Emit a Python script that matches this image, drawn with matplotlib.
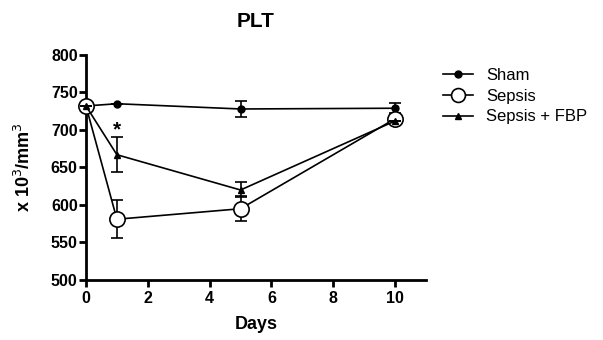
import matplotlib
matplotlib.use("Agg")
import matplotlib.pyplot as plt
from matplotlib.lines import Line2D

plt.rcParams['font.family'] = ['Liberation Sans', 'DejaVu Sans']

days = [0, 1, 5, 10]
sham = [732, 735, 728, 729]
sham_err = [0, 0, 11, 7]
sepsis = [732, 581, 595, 715]
sepsis_err = [0, 25, 17, 0]
fbp = [732, 667, 620, 712]
fbp_err = [0, 23, 10, 0]
labels = ["Sham", "Sepsis", "Sepsis + FBP"]

fig = plt.figure(figsize=(6.03, 3.40), dpi=100)
ax = fig.add_axes([0.1426, 0.1765, 0.5638, 0.6618])

lw = 1.2
ax.errorbar(days, sham, yerr=sham_err, color='black', lw=lw, marker='o', ms=5,
            capsize=4, elinewidth=1.2, capthick=1.2, clip_on=False, zorder=3)
ax.errorbar(days, sepsis, yerr=sepsis_err, color='black', lw=lw, marker='o', ms=11,
            mfc='white', mew=1.2, capsize=4, elinewidth=1.2, capthick=1.2,
            clip_on=False, zorder=4)
ax.errorbar(days, fbp, yerr=fbp_err, color='black', lw=lw, marker='^', ms=5,
            capsize=4, elinewidth=1.2, capthick=1.2, clip_on=False, zorder=5)

ax.text(1, 700, "*", ha='center', va='center', fontsize=15, fontweight='bold')

ax.set_xlim(0, 11)
ax.set_ylim(500, 800)
ax.set_xticks([0, 2, 4, 6, 8, 10])
ax.set_yticks(range(500, 801, 50))
for s in ['top', 'right']:
    ax.spines[s].set_visible(False)
for s in ['left', 'bottom']:
    ax.spines[s].set_linewidth(2)
ax.tick_params(width=2, length=5, direction='out', labelsize=11.5)
ax.tick_params(axis='x', pad=3)
ax.tick_params(axis='y', pad=1)
for t in ax.get_xticklabels() + ax.get_yticklabels():
    t.set_fontweight('bold')

ax.set_xlabel("Days", fontsize=13, fontweight='bold', labelpad=7)
ax.set_ylabel("x 10$^3$/mm$^3$", fontsize=13, fontweight='bold', labelpad=12)
ax.set_title("PLT", fontsize=15, fontweight='bold', pad=20)

handles = [
    Line2D([], [], color='black', lw=lw, marker='o', ms=5),
    Line2D([], [], color='black', lw=lw, marker='o', ms=10, mfc='white', mew=1.2),
    Line2D([], [], color='black', lw=lw, marker='^', ms=5),
]
fig.legend(handles, labels, loc='upper left', bbox_to_anchor=(0.71, 0.845),
           frameon=False, fontsize=12, handlelength=1.8, handletextpad=0.8,
           labelspacing=0.35)

fig.savefig("out.png", dpi=100)
